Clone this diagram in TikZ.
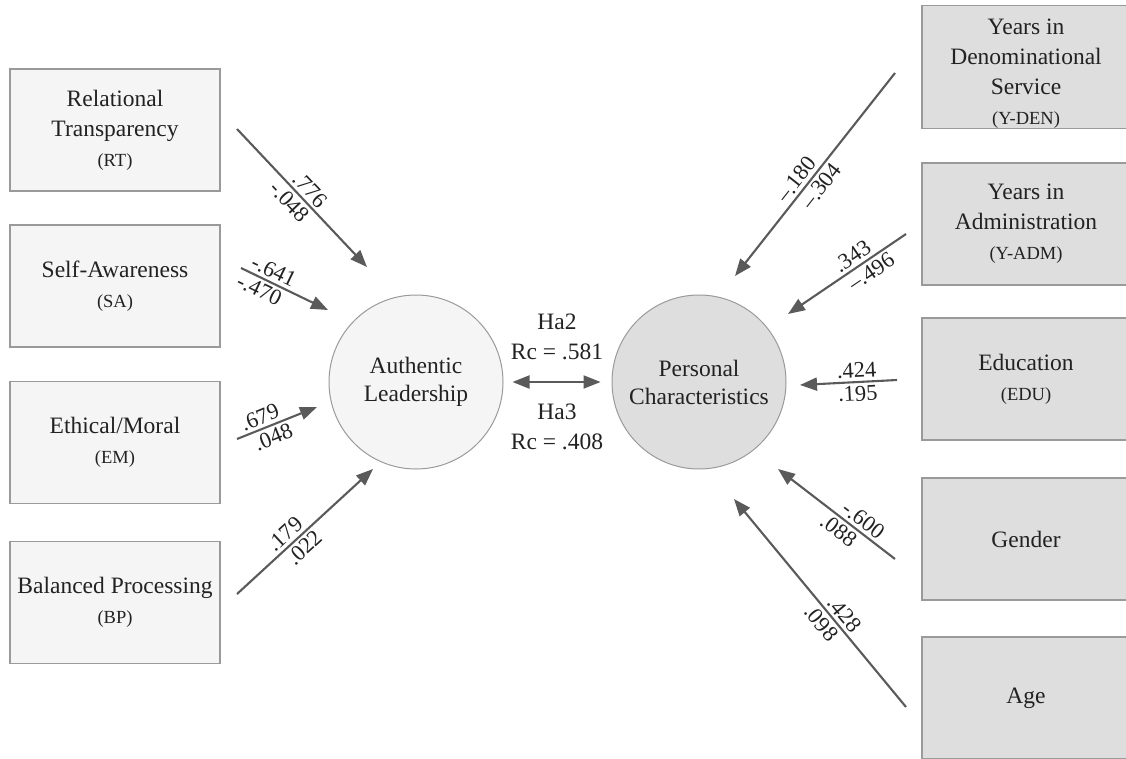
\documentclass[tikz,border=0pt]{standalone}
\usepackage{fontspec}
\setmainfont{Liberation Serif}
\usetikzlibrary{arrows.meta}
\definecolor{lboxfill}{HTML}{F5F5F5}
\definecolor{rboxfill}{HTML}{DEDEDE}
\definecolor{boxline}{HTML}{9A9A9A}
\definecolor{arrowc}{HTML}{5A5A5A}
\definecolor{textc}{HTML}{222222}
\newcommand{\abbrfont}{\fontsize{18.5}{30}\selectfont}
\begin{document}
\begin{tikzpicture}[x=1pt,y=-1pt,
  mainfont/.style={font=\fontsize{23.5}{30}\selectfont, text=textc},
  lbox/.style={mainfont, draw=boxline, line width=1.2pt, fill=lboxfill, rectangle, minimum width=210pt, minimum height=122pt, align=center, inner sep=0pt},
  rbox/.style={mainfont, draw=boxline, line width=1.2pt, fill=rboxfill, rectangle, minimum width=208pt, minimum height=122pt, align=center, inner sep=0pt},
  latent/.style={mainfont, circle, draw=boxline, line width=1pt, minimum size=174pt, align=center, inner sep=0pt, font=\fontsize{23.5}{28}\selectfont},
  path/.style={draw=arrowc, line width=2.1pt, -{Triangle[length=17pt,width=13pt]}},
  coef/.style={font=\fontsize{22.5}{24}\selectfont, text=textc, sloped, inner sep=3pt},
  midlabel/.style={mainfont, align=center}
]
\clip (0,0) rectangle (1126,759);
\fill[white] (0,0) rectangle (1126,759);

% left boxes
\node[lbox] (rt) at (115,130) {Relational\\Transparency\\{\abbrfont (RT)}};
\node[lbox] (sa) at (115,286) {Self-Awareness\\{\abbrfont (SA)}};
\node[lbox] (em) at (115,442.5) {Ethical/Moral\\{\abbrfont (EM)}};
\node[lbox] (bp) at (115,602.5) {Balanced Processing\\{\abbrfont (BP)}};

% right boxes
\node[rbox] (yden) at (1026,67) {\rule{0pt}{29pt}Years in\\Denominational\\Service\\{\abbrfont (Y-DEN)}};
\node[rbox] (yadm) at (1026,224) {Years in\\Administration\\{\abbrfont (Y-ADM)}};
\node[rbox] (edu) at (1026,379) {Education\\{\abbrfont (EDU)}};
\node[rbox] (gen) at (1026,539) {Gender};
\node[rbox] (age) at (1026,698) {Age};

% latent variables
\node[latent, fill=lboxfill] (al) at (416,382) {Authentic\\Leadership};
\node[latent, fill=rboxfill] (pc) at (699,382) {Personal\\Characteristics};

% arrow end points
\coordinate (rt1) at (237,129);  \coordinate (rt2) at (367,267);
\coordinate (sa1) at (241,268);  \coordinate (sa2) at (328,310);
\coordinate (em1) at (237,439);  \coordinate (em2) at (317,407);
\coordinate (bp1) at (237,594);  \coordinate (bp2) at (373,469);
\coordinate (yd1) at (895,73);   \coordinate (yd2) at (735,276);
\coordinate (ya1) at (906,234);  \coordinate (ya2) at (788,314);
\coordinate (ed1) at (897,380);  \coordinate (ed2) at (800,385);
\coordinate (ge1) at (895,559);  \coordinate (ge2) at (778,469);
\coordinate (ag1) at (906,707);  \coordinate (ag2) at (734,499);

% left paths
\draw[path] (rt1) -- (rt2) node[coef, pos=0.5, above] {.776} node[coef, pos=0.47, below] {-.048};
\draw[path] (sa1) -- (sa2) node[coef, pos=0.32, above] {-.641} node[coef, pos=0.27, below] {-.470};
\draw[path] (em1) -- (em2) node[coef, pos=0.34, above] {.679} node[coef, pos=0.4, below] {.048};
\draw[path] (bp1) -- (bp2) node[coef, pos=0.41, above] {.179} node[coef, pos=0.44, below] {.022};

% right paths
\draw[path] (yd1) -- (yd2) node[coef, pos=0.56, above] {–.180} node[coef, pos=0.52, below] {–.304};
\draw[path] (ya1) -- (ya2) node[coef, pos=0.40, above] {.343} node[coef, pos=0.35, below] {–.496};
\draw[path] (ed1) -- (ed2) node[coef, pos=0.41, above] {.424} node[coef, pos=0.41, below] {.195};
\draw[path] (ge1) -- (ge2) node[coef, pos=0.33, above] {-.600} node[coef, pos=0.42, below] {.088};
\draw[path] (ag1) -- (ag2) node[coef, pos=0.41, above] {.428} node[coef, pos=0.44, below] {.098};

% correlation
\draw[draw=arrowc, line width=2.1pt, {Triangle[length=17pt,width=13pt]}-{Triangle[length=17pt,width=13pt]}, shorten <=9pt, shorten >=11pt] (al.east) -- (pc.west);
\node[midlabel] (ha2) at (557,337) {Ha2\\Rc = .581};
\node[midlabel] (ha3) at (557,427) {Ha3\\Rc = .408};
\end{tikzpicture}
\end{document}
